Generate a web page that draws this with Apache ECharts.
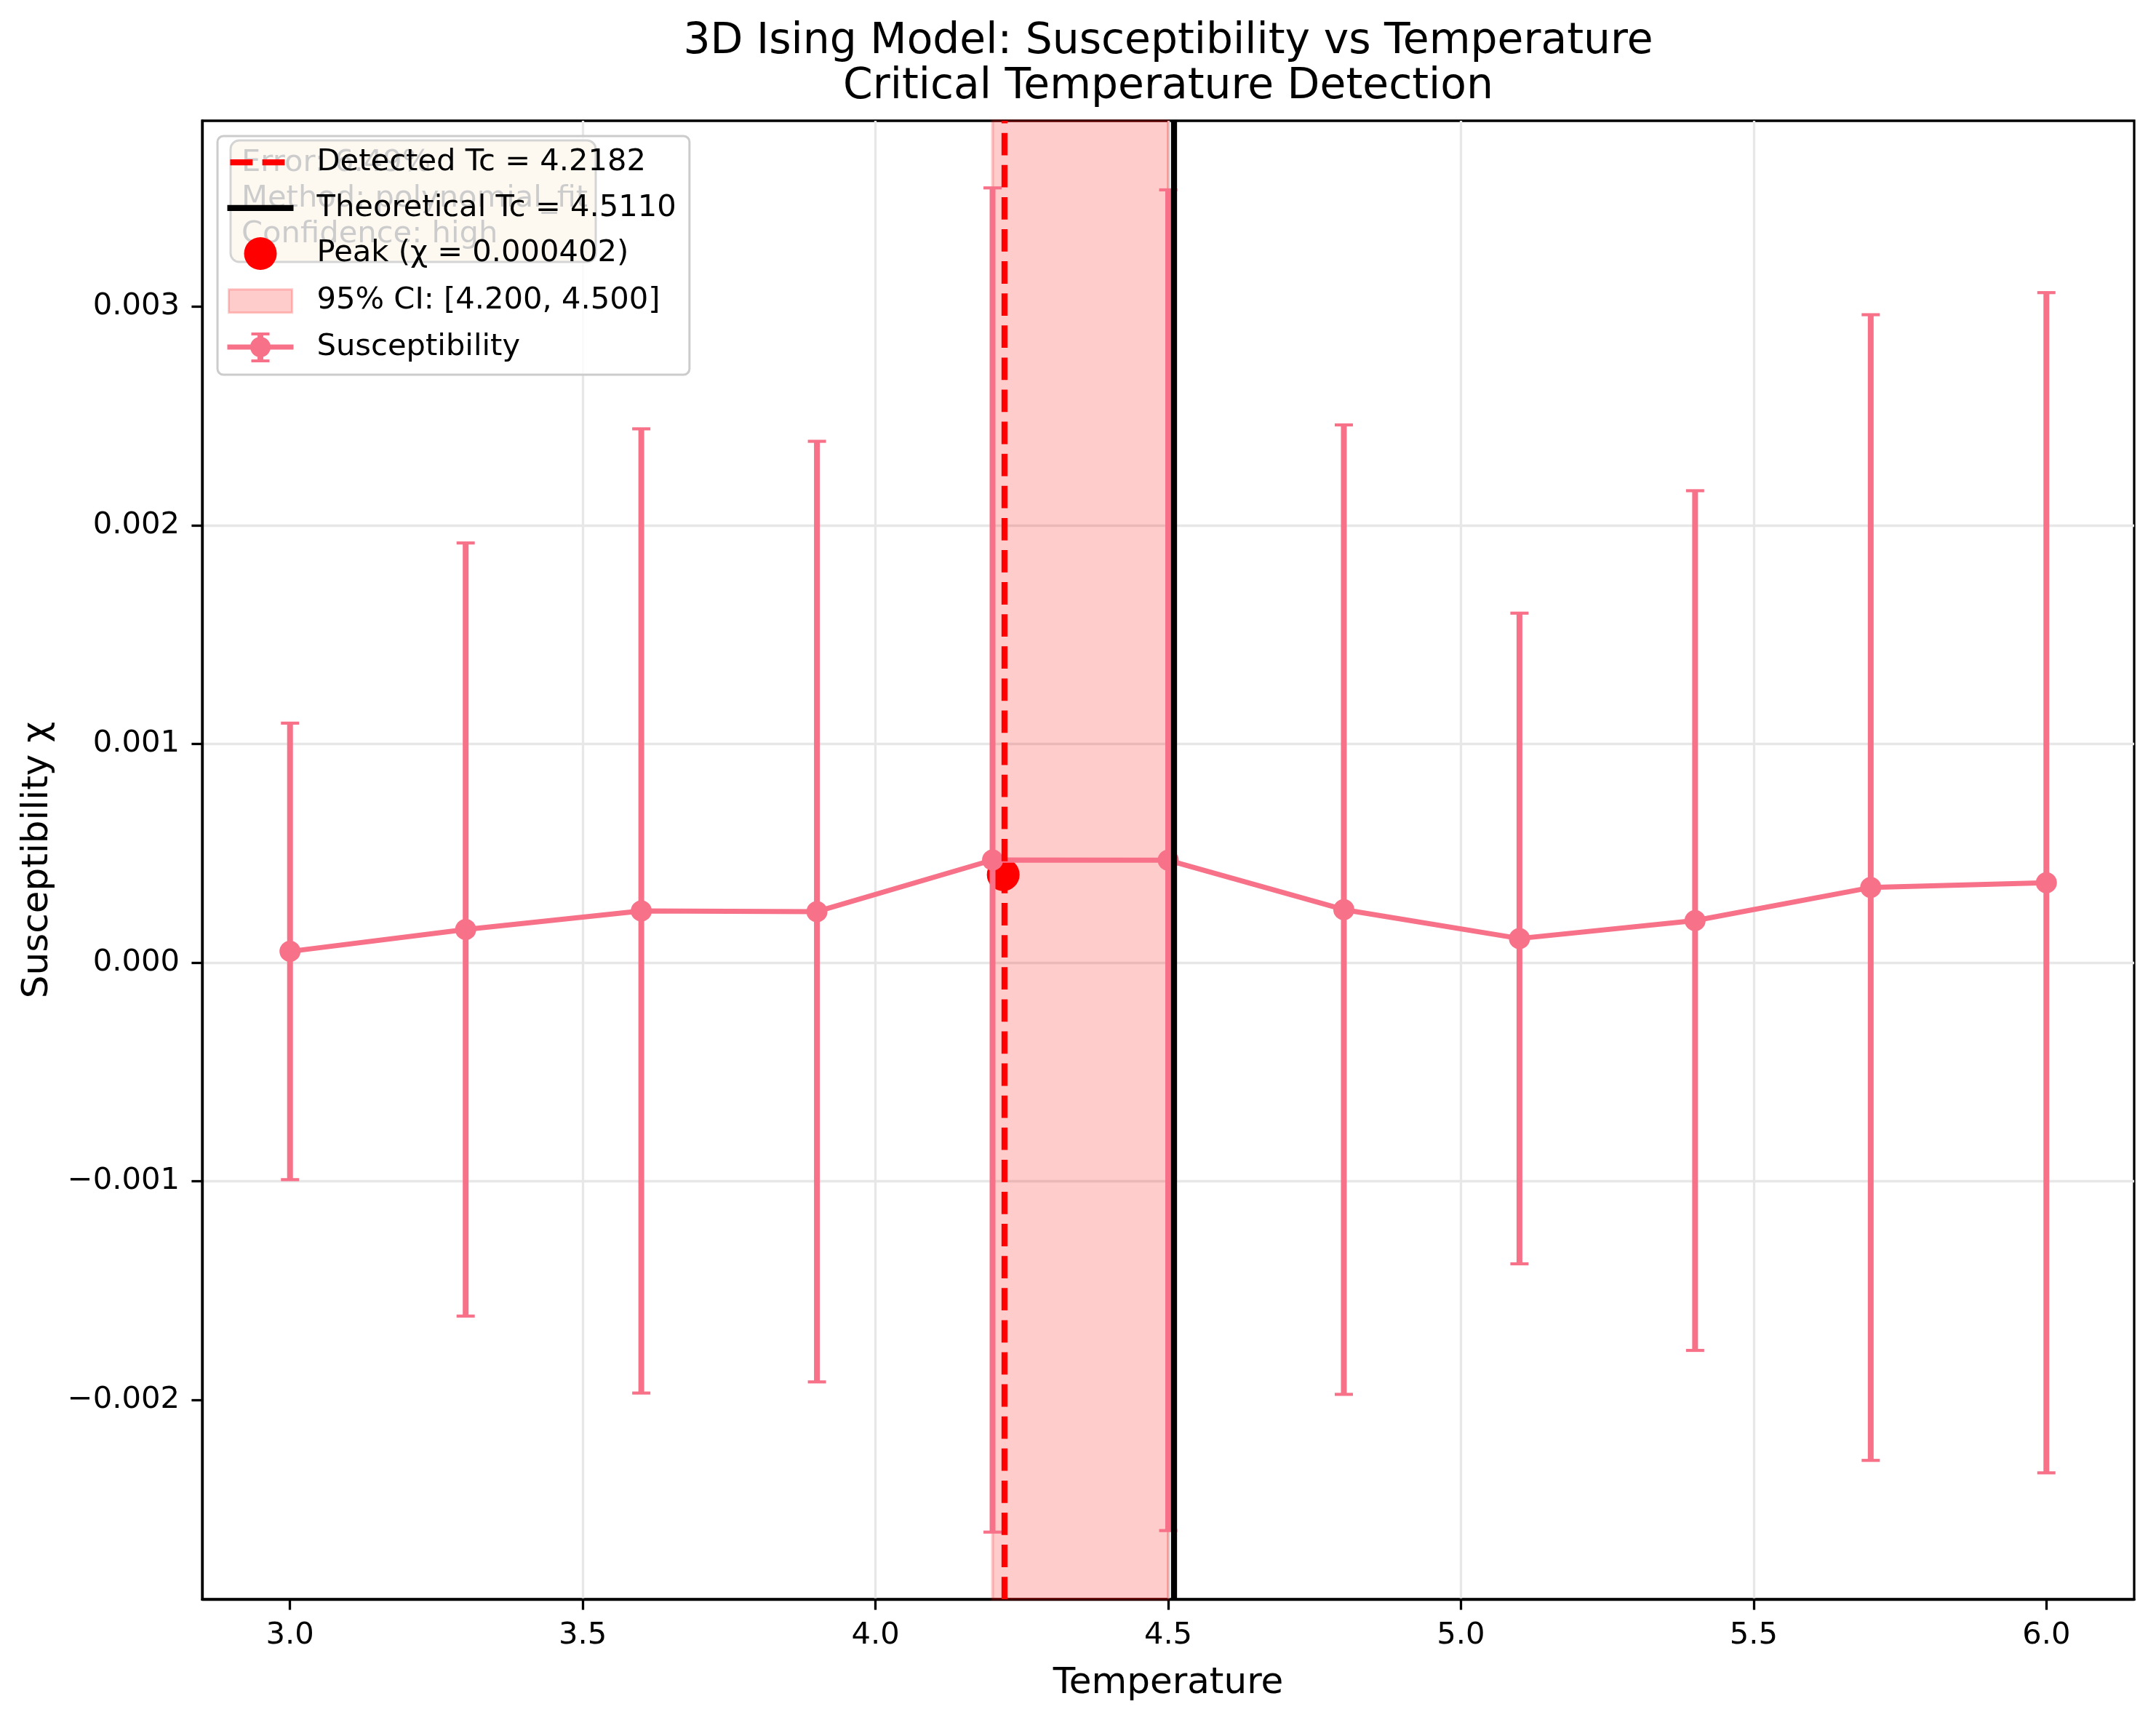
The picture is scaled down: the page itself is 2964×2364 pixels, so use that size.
<!DOCTYPE html>
<html>
<head>
<meta charset="utf-8">
<script src="https://cdn.jsdelivr.net/npm/echarts@6/dist/echarts.min.js"></script>
<style>
html,body{margin:0;padding:0;background:#fff;}
#chart{width:2964px;height:2364px;}
</style>
</head>
<body>
<div id="chart"></div>
<script>
// ---- data ----
var temperatures = [3.0, 3.3, 3.6, 3.9, 4.2, 4.5, 4.8, 5.1, 5.4, 5.7, 6.0];
var susceptibility = [0.000051, 0.000151, 0.000236, 0.000233, 0.000469, 0.000468, 0.000242, 0.000110, 0.000192, 0.000343, 0.000365];
var susceptibilityErr = [0.001044, 0.001768, 0.002205, 0.002151, 0.003074, 0.003066, 0.002217, 0.001488, 0.001966, 0.002620, 0.002699];
var detectedTc = 4.2182;
var theoreticalTc = 4.5110;
var peakChi = 0.000402;
var ciRange = [4.200, 4.500];
var xTickValues = [3.0, 3.5, 4.0, 4.5, 5.0, 5.5, 6.0];
var yTickValues = [-0.002, -0.001, 0.000, 0.001, 0.002, 0.003];
var infoLines = ['Error: 6.49%', 'Method: polynomial_fit', 'Confidence: high'];
var titleLines = ['3D Ising Model: Susceptibility vs Temperature', 'Critical Temperature Detection'];

// ---- styling ----
var FONT = 'DejaVu Sans';
var SERIES_COLOR = '#f77189';
var FS = 41.67;

var lineData = temperatures.map(function (t, i) { return [t, susceptibility[i]]; });
var errData = temperatures.map(function (t, i) {
  return [t, susceptibility[i] - susceptibilityErr[i], susceptibility[i] + susceptibilityErr[i]];
});

var nameDetected = 'Detected Tc = ' + detectedTc.toFixed(4);
var nameTheo = 'Theoretical Tc = ' + theoreticalTc.toFixed(4);
var namePeak = 'Peak (\u03c7 = ' + peakChi.toFixed(6) + ')';
var nameCI = '95% CI: [' + ciRange[0].toFixed(3) + ', ' + ciRange[1].toFixed(3) + ']';
var nameSus = 'Susceptibility';

var ANCH = 'M0,0 M118,46 ';
var iconDetected = 'path://' + ANCH + 'M4,19 h30.8 v8.3 h-30.8 z M48.1,19 h30.8 v8.3 h-30.8 z';
var iconTheo = 'path://' + ANCH + 'M0,19 h91 v8.3 h-91 z';
var iconPeak = 'path://' + ANCH + 'M23,23 a22.5,22.5 0 1,1 45,0 a22.5,22.5 0 1,1 -45,0 z';
var iconCI = 'path://' + ANCH + 'M2,8 h87 v32 h-87 z';
var iconSus = 'path://' + ANCH + 'M0,19.5 h91 v7 h-91 z M41.5,3 h8 v41 h-8 z M33,3 h25 v4 h-25 z M33,40 h25 v4 h-25 z M31.5,23 a14,14 0 1,1 28,0 a14,14 0 1,1 -28,0 z';

var chart = echarts.init(document.getElementById('chart'), null, {renderer: 'canvas'});

var option = {
  animation: false,
  backgroundColor: '#ffffff',
  textStyle: {fontFamily: FONT},
  grid: {
    left: 278, right: 30, top: 166, bottom: 166,
    show: true, borderColor: '#000000', borderWidth: 3.3, backgroundColor: 'transparent'
  },
  xAxis: {
    type: 'value', min: 2.85, max: 6.15, splitNumber: 7,
    name: 'Temperature', nameLocation: 'middle', nameGap: 91,
    nameTextStyle: {fontFamily: FONT, fontSize: 50, color: '#000'},
    axisLine: {show: true, onZero: false, lineStyle: {color: '#000', width: 3.3}},
    axisTick: {show: true, inside: false, length: 14.6, customValues: xTickValues, lineStyle: {color: '#000', width: 3.3}},
    axisLabel: {show: true, margin: 29, customValues: xTickValues, fontFamily: FONT, fontSize: FS, color: '#000',
      formatter: function (v) { return v.toFixed(1); }},
    splitLine: {show: true, showMinLine: false, showMaxLine: false, lineStyle: {color: '#e7e7e7', width: 3.3}}
  },
  yAxis: {
    type: 'value', min: -0.002912, max: 0.00385, splitNumber: 6,
    name: 'Susceptibility \u03c7', nameLocation: 'middle', nameGap: 201,
    nameTextStyle: {fontFamily: FONT, fontSize: 50, color: '#000'},
    axisLine: {show: true, onZero: false, lineStyle: {color: '#000', width: 3.3}},
    axisTick: {show: true, inside: false, length: 14.6, customValues: yTickValues, lineStyle: {color: '#000', width: 3.3}},
    axisLabel: {show: true, margin: 31, customValues: yTickValues, fontFamily: FONT, fontSize: FS, color: '#000',
      formatter: function (v) { return (v < -1e-12 ? '\u2212' : '') + Math.abs(v).toFixed(3); }},
    splitLine: {show: true, showMinLine: false, showMaxLine: false, lineStyle: {color: '#e7e7e7', width: 3.3}}
  },
  legend: {
    show: true, orient: 'vertical', left: 299, top: 187, z: 10,
    padding: [13, 18, 15, 12], itemGap: 16.75, itemWidth: 118, itemHeight: 46,
    backgroundColor: 'rgba(255,255,255,0.8)', borderColor: '#cccccc', borderWidth: 3, borderRadius: 8,
    selectedMode: false, symbolKeepAspect: true,
    textStyle: {fontFamily: FONT, fontSize: FS, color: '#000', lineHeight: 46},
    data: [
      {name: nameDetected, icon: iconDetected, itemStyle: {color: '#ff0000', borderWidth: 0, opacity: 1}},
      {name: nameTheo, icon: iconTheo, itemStyle: {color: '#000000', borderWidth: 0, opacity: 1}},
      {name: namePeak, icon: iconPeak, itemStyle: {color: '#ff0000', borderWidth: 0, opacity: 1}},
      {name: nameCI, icon: iconCI, itemStyle: {color: 'rgba(255,0,0,0.2)', borderColor: 'rgba(255,0,0,0.2)', borderWidth: 3, opacity: 1}},
      {name: nameSus, icon: iconSus, itemStyle: {color: SERIES_COLOR, borderWidth: 0, opacity: 1}}
    ]
  },
  graphic: [
    {
      type: 'group', z: 5,
      children: [
        {type: 'rect', z: 5, shape: {x: 317, y: 193, width: 502, height: 167, r: 12},
          style: {fill: 'rgba(245,222,179,0.9)', stroke: '#2a2a2a', lineWidth: 3}},
        {type: 'text', z: 6, x: 332, y: 224, style: {text: infoLines[0], fontFamily: FONT, fontSize: FS, fill: '#000', verticalAlign: 'middle', align: 'left'}},
        {type: 'text', z: 6, x: 332, y: 273, style: {text: infoLines[1], fontFamily: FONT, fontSize: FS, fill: '#000', verticalAlign: 'middle', align: 'left'}},
        {type: 'text', z: 6, x: 332, y: 322, style: {text: infoLines[2], fontFamily: FONT, fontSize: FS, fill: '#000', verticalAlign: 'middle', align: 'left'}}
      ]
    },
    {type: 'text', z: 6, x: 1606, y: 58, style: {text: titleLines[0], fontFamily: FONT, fontSize: 58.33, fill: '#000', align: 'center', verticalAlign: 'middle'}},
    {type: 'text', z: 6, x: 1606, y: 120, style: {text: titleLines[1], fontFamily: FONT, fontSize: 58.33, fill: '#000', align: 'center', verticalAlign: 'middle'}}
  ],
  series: [
    {
      name: nameCI, type: 'line', data: [], z: 1, silent: true,
      itemStyle: {color: 'rgba(255,0,0,0.2)'},
      markArea: {
        silent: true,
        itemStyle: {color: 'rgba(255,0,0,0.2)', borderColor: 'rgba(255,0,0,0.2)', borderWidth: 4},
        label: {show: false},
        data: [[{xAxis: ciRange[0]}, {xAxis: ciRange[1]}]]
      }
    },
    {
      name: nameDetected, type: 'line', data: [], z: 2, silent: true,
      itemStyle: {color: '#ff0000'},
      markLine: {
        silent: true, symbol: ['none', 'none'], label: {show: false},
        lineStyle: {color: '#ff0000', width: 8.3, type: [30.8, 13.3], opacity: 1},
        data: [{xAxis: detectedTc}]
      }
    },
    {
      name: nameTheo, type: 'line', data: [], z: 2, silent: true,
      itemStyle: {color: '#000000'},
      markLine: {
        silent: true, symbol: ['none', 'none'], label: {show: false},
        lineStyle: {color: '#000000', width: 8.3, type: 'solid', opacity: 1},
        data: [{xAxis: theoreticalTc}]
      }
    },
    {
      name: namePeak, type: 'scatter', z: 2, silent: true,
      symbol: 'circle', symbolSize: 45,
      itemStyle: {color: '#ff0000', opacity: 1},
      data: [[detectedTc, peakChi]]
    },
    {
      name: nameSus, type: 'custom', z: 3, silent: true,
      itemStyle: {color: SERIES_COLOR},
      encode: {x: 0, y: [1, 2]},
      data: errData,
      renderItem: function (params, api) {
        var x = api.value(0);
        var pLo = api.coord([x, api.value(1)]);
        var pHi = api.coord([x, api.value(2)]);
        var hw = 12.5;
        return {
          type: 'group',
          children: [
            {type: 'line', shape: {x1: pLo[0], y1: pLo[1], x2: pHi[0], y2: pHi[1]}, style: {stroke: SERIES_COLOR, lineWidth: 8}},
            {type: 'line', shape: {x1: pHi[0] - hw, y1: pHi[1], x2: pHi[0] + hw, y2: pHi[1]}, style: {stroke: SERIES_COLOR, lineWidth: 4.2}},
            {type: 'line', shape: {x1: pLo[0] - hw, y1: pLo[1], x2: pLo[0] + hw, y2: pLo[1]}, style: {stroke: SERIES_COLOR, lineWidth: 4.2}}
          ]
        };
      }
    },
    {
      name: nameSus, type: 'line', z: 4, silent: true,
      data: lineData,
      symbol: 'circle', symbolSize: 29, showSymbol: true,
      lineStyle: {color: SERIES_COLOR, width: 7},
      itemStyle: {color: SERIES_COLOR, opacity: 1}
    }
  ]
};
chart.setOption(option);
</script>
</body>
</html>
